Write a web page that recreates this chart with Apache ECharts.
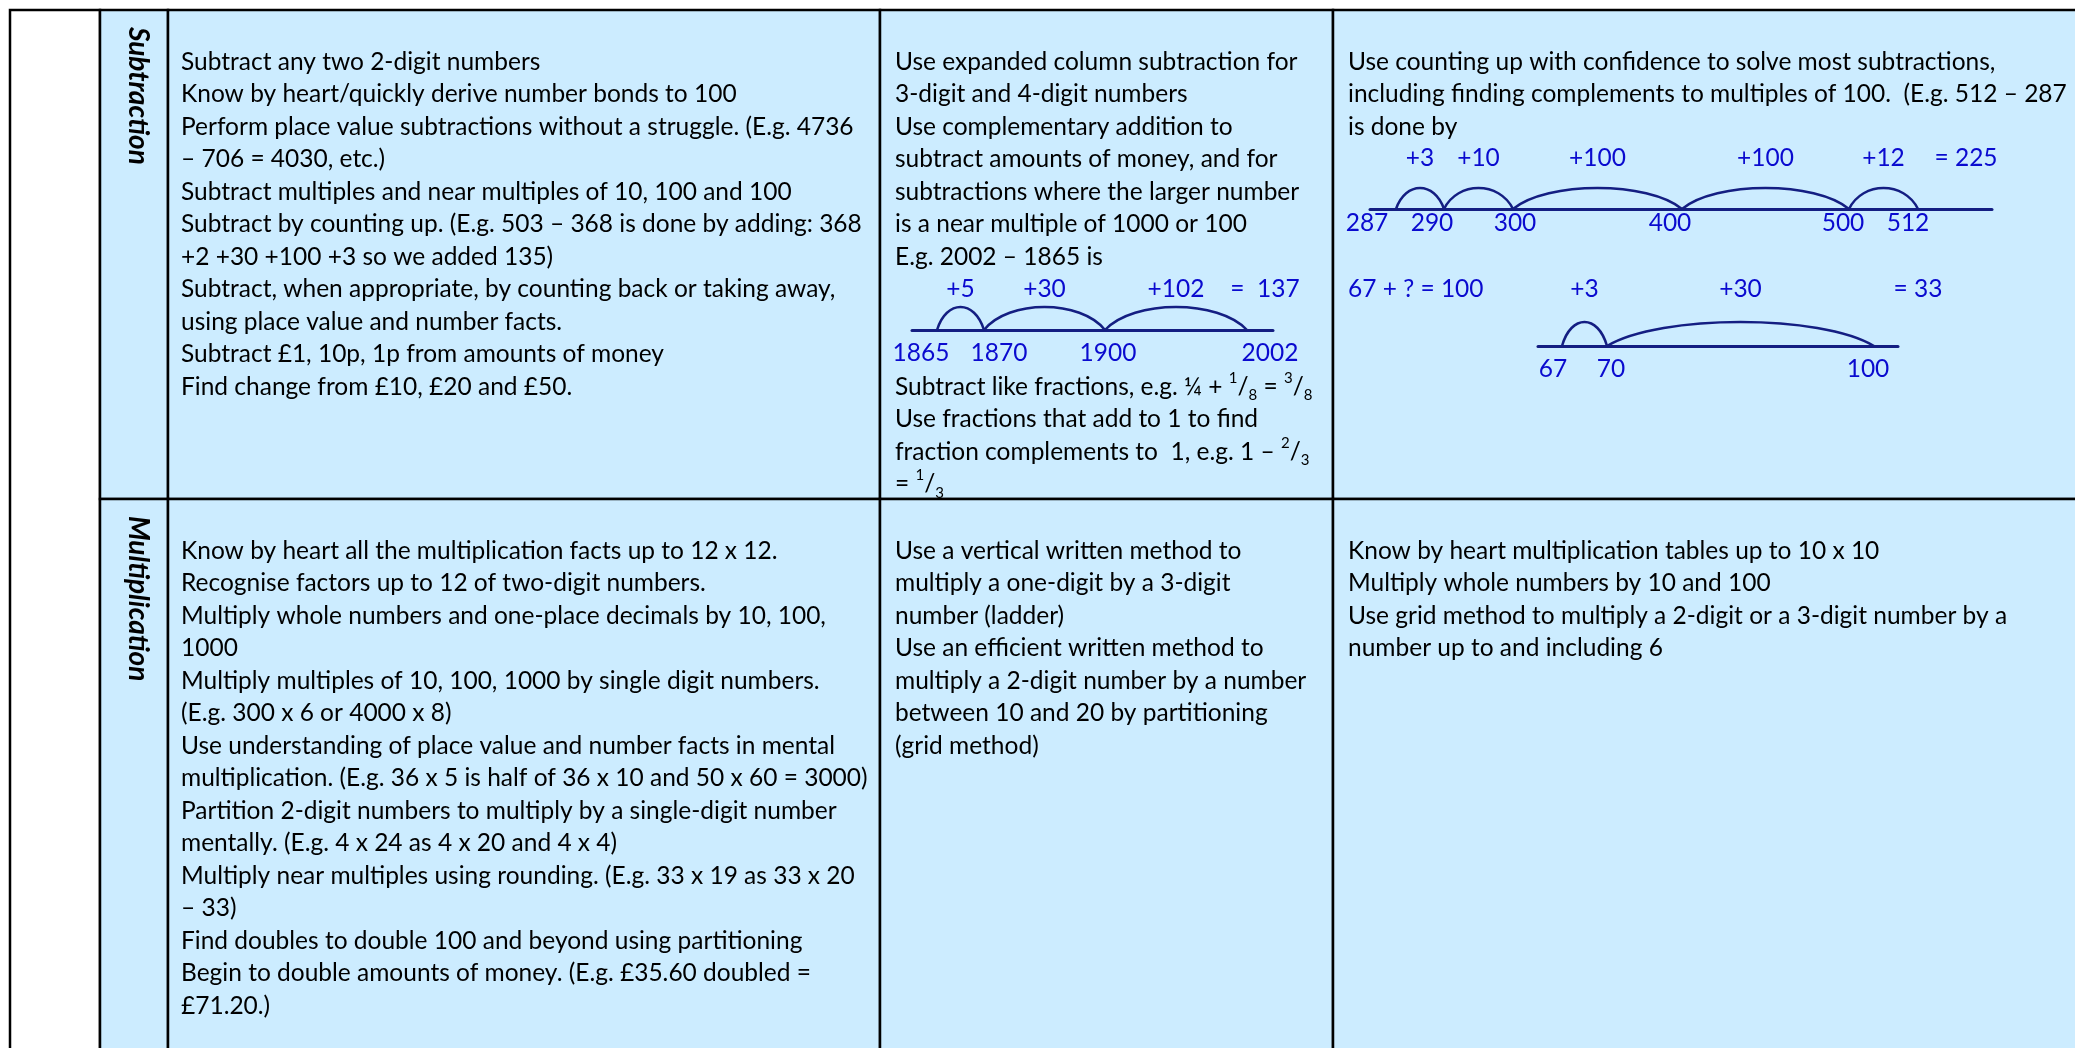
<!DOCTYPE html>
<html>
<head>
<meta charset="utf-8">
<script src="https://cdn.jsdelivr.net/npm/echarts@6.0.0/dist/echarts.min.js"></script>
<style>
  html, body { margin: 0; padding: 0; background: #fff; }
  #main { width: 2075px; height: 1048px; }
</style>
</head>
<body>
<div id="main"></div>
<script>
// table text, one array per cell
var rowNames = ['Subtraction', 'Multiplication'];

var subtractionA = [
  'Subtract any two 2-digit numbers',
  'Know by heart/quickly derive number bonds to 100',
  'Perform place value subtractions without a struggle. (E.g. 4736',
  '– 706 = 4030, etc.)',
  'Subtract multiples and near multiples of 10, 100 and 100',
  'Subtract by counting up. (E.g. 503 – 368 is done by adding: 368',
  '+2 +30 +100 +3 so we added 135)',
  'Subtract, when appropriate, by counting back or taking away,',
  'using place value and number facts.',
  'Subtract £1, 10p, 1p from amounts of money',
  'Find change from £10, £20 and £50.'
];
var subtractionB = [
  'Use expanded column subtraction for',
  '3-digit and 4-digit numbers',
  'Use complementary addition to',
  'subtract amounts of money, and for',
  'subtractions where the larger number',
  'is a near multiple of 1000 or 100',
  'E.g. 2002 – 1865 is',
  ' ', ' ', ' ',
  'Subtract like fractions, e.g. ¼ + {sup|1}/{sub|8} = {sup|3}/{sub|8}',
  'Use fractions that add to 1 to find',
  'fraction complements to  1, e.g. 1 – {sup|2}/{sub|3}',
  '= {sup|1}/{sub|3}'
];
var subtractionC = [
  'Use counting up with confidence to solve most subtractions,',
  'including finding complements to multiples of 100.  (E.g. 512 – 287',
  'is done by',
  ' ', ' ', ' ', ' ',
  '{blue|67 + ? = 100}'
];
var multiplicationA = [
  'Know by heart all the multiplication facts up to 12 x 12.',
  'Recognise factors up to 12 of two-digit numbers.',
  'Multiply whole numbers and one-place decimals by 10, 100,',
  '1000',
  'Multiply multiples of 10, 100, 1000 by single digit numbers.',
  '(E.g. 300 x 6 or 4000 x 8)',
  'Use understanding of place value and number facts in mental',
  'multiplication. (E.g. 36 x 5 is half of 36 x 10 and 50 x 60 = 3000)',
  'Partition 2-digit numbers to multiply by a single-digit number',
  'mentally. (E.g. 4 x 24 as 4 x 20 and 4 x 4)',
  'Multiply near multiples using rounding. (E.g. 33 x 19 as 33 x 20',
  '– 33)',
  'Find doubles to double 100 and beyond using partitioning',
  'Begin to double amounts of money. (E.g. £35.60 doubled =',
  '£71.20.)'
];
var multiplicationB = [
  'Use a vertical written method to',
  'multiply a one-digit by a 3-digit',
  'number (ladder)',
  'Use an efficient written method to',
  'multiply a 2-digit number by a number',
  'between 10 and 20 by partitioning',
  '(grid method)'
];
var multiplicationC = [
  'Know by heart multiplication tables up to 10 x 10',
  'Multiply whole numbers by 10 and 100',
  'Use grid method to multiply a 2-digit or a 3-digit number by a',
  'number up to and including 6'
];

// number lines: tick values, where they sit on the drawn line, the jumps
var lineA_ticks = [1865, 1870, 1900, 2002];
var lineA_at = [25, 72, 193, 335];
var lineA_jumps = ['+5', '+30', '+102'];
var lineA_total = '=  137';
var lineA_totalAt = 353;

var lineB_ticks = [287, 290, 300, 400, 500, 512];
var lineB_at = [26, 74, 143, 312, 479, 548];
var lineB_jumps = ['+3', '+10', '+100', '+100', '+12'];
var lineB_total = '= 225';
var lineB_totalAt = 596;

var lineC_ticks = [67, 70, 100];
var lineC_at = [24, 69, 336];
var lineC_jumps = ['+3', '+30'];
var lineC_total = '= 33';
var lineC_totalAt = 380;

var FONT = 'Lato, "Open Sans", sans-serif';
var SIZE = 24.5;
var INK = '#000000';
var BLUE = '#0A0ACF';
var NAVY = '#141E82';
var FILL = '#CCECFF';

var colEdges = [10, 100, 168, 880, 1333, 2090];
var rowEdges = [10, 499, 1070];
var textLeft = [181, 895, 1348];

var cells = [
  [subtractionA, subtractionB, subtractionC],
  [multiplicationA, multiplicationB, multiplicationC]
];

var rich = {
  sup: { fontSize: 15, lineHeight: 15, verticalAlign: 'top', fill: INK, fontFamily: FONT },
  sub: { fontSize: 15, lineHeight: 15, verticalAlign: 'bottom', fill: INK, fontFamily: FONT },
  blue: { fontSize: SIZE, lineHeight: 32.5, fill: BLUE, fontFamily: FONT }
};

var chart = echarts.init(document.getElementById('main'));

// table cells
var graphics = [];
graphics.push({
  type: 'rect', z: 0,
  shape: { x: colEdges[0], y: rowEdges[0], width: colEdges[1] - colEdges[0], height: rowEdges[2] - rowEdges[0] },
  style: { fill: '#fff', stroke: INK, lineWidth: 2.5 }
});
rowNames.forEach(function (name, r) {
  var top = rowEdges[r];
  var h = rowEdges[r + 1] - top;
  for (var c = 1; c < 5; c++) {
    graphics.push({
      type: 'rect', z: 0,
      shape: { x: colEdges[c], y: top, width: colEdges[c + 1] - colEdges[c], height: h },
      style: { fill: FILL, stroke: INK, lineWidth: 2.5 }
    });
  }
  graphics.push({
    type: 'text', z: 1,
    x: 138, y: top + 17,
    rotation: -Math.PI / 2,
    style: {
      text: name, fill: INK, fontFamily: FONT, fontSize: 28,
      fontWeight: 'bold', fontStyle: 'italic', align: 'left', verticalAlign: 'middle'
    }
  });
  cells[r].forEach(function (lines, k) {
    graphics.push({
      type: 'text', z: 1,
      x: textLeft[k], y: top + 35.5,
      style: {
        text: lines.join('\n'), fill: INK, fontFamily: FONT, fontSize: SIZE,
        lineHeight: 32.5, align: 'left', verticalAlign: 'top', rich: rich
      }
    });
  });
});

// number lines (box = where each line is drawn in the cell)
var numberLines = [
  { ticks: lineA_ticks, at: lineA_at, jumps: lineA_jumps, total: lineA_total, totalAt: lineA_totalAt,
    box: { left: 912, length: 361, axisY: 330, peakY: 307, hopY: 289, tickGap: 11, shift: [-16, 15, 3, 23] } },
  { ticks: lineB_ticks, at: lineB_at, jumps: lineB_jumps, total: lineB_total, totalAt: lineB_totalAt,
    box: { left: 1370, length: 622, axisY: 209, peakY: 188, hopY: 158, tickGap: 2, shift: [-29, -12, 2, -12, -6, -10] } },
  { ticks: lineC_ticks, at: lineC_at, jumps: lineC_jumps, total: lineC_total, totalAt: lineC_totalAt,
    box: { left: 1538, length: 360, axisY: 346, peakY: 322, hopY: 289, tickGap: 11, shift: [-9, 4, -6] } }
];

var grids = [], xAxes = [], yAxes = [], series = [];
numberLines.forEach(function (nl, i) {
  var b = nl.box;
  var tickRich = {};
  b.shift.forEach(function (d, j) {
    tickRich['s' + j] = {
      color: BLUE, fontFamily: FONT, fontSize: SIZE,
      padding: d < 0 ? [0, -2 * d, 0, 0] : [0, 0, 0, 2 * d]
    };
  });
  grids.push({
    left: b.left, top: b.peakY, width: b.length, height: b.axisY - b.peakY,
    containLabel: false, outerBoundsMode: 'none'
  });
  xAxes.push({
    gridIndex: i, type: 'value', min: 0, max: b.length, z: 5,
    splitLine: { show: false },
    axisTick: { show: false },
    axisLine: { show: true, onZero: false, lineStyle: { color: NAVY, width: 3 } },
    axisLabel: {
      customValues: nl.at,
      hideOverlap: false,
      showMinLabel: true,
      showMaxLabel: true,
      formatter: function (v) {
        var j = nl.at.indexOf(v);
        return j < 0 ? '' : '{s' + j + '|' + nl.ticks[j] + '}';
      },
      rich: tickRich,
      color: BLUE, fontFamily: FONT, fontSize: SIZE, margin: b.tickGap
    }
  });
  yAxes.push({ gridIndex: i, type: 'value', min: 0, max: 1, show: false });

  var hops = [];
  for (var j = 0; j < nl.jumps.length; j++) hops.push([nl.at[j], nl.at[j + 1]]);
  hops.push([nl.totalAt, nl.totalAt]);
  var labels = nl.jumps.concat([nl.total]);

  series.push({
    type: 'custom', xAxisIndex: i, yAxisIndex: i, z: 6, clip: false, silent: true,
    data: hops,
    renderItem: function (params, api) {
      var a = api.value(0), c = api.value(1);
      var p0 = api.coord([a, 0]);
      var p1 = api.coord([c, 0]);
      var pk = api.coord([(a + c) / 2, 1]);
      var text = {
        type: 'text', x: pk[0], y: p0[1] - (b.axisY - b.hopY),
        style: {
          text: labels[params.dataIndex], fill: BLUE, fontFamily: FONT, fontSize: SIZE,
          align: 'center', verticalAlign: 'middle'
        }
      };
      if (a === c) return text;
      var w = p1[0] - p0[0];
      var rise = (p0[1] - pk[1]) * 4 / 3;
      return {
        type: 'group',
        children: [{
          type: 'bezierCurve',
          shape: {
            x1: p0[0], y1: p0[1], x2: p1[0], y2: p1[1],
            cpx1: p0[0] + w * 0.2, cpy1: p0[1] - rise,
            cpx2: p1[0] - w * 0.2, cpy2: p1[1] - rise
          },
          style: { fill: null, stroke: NAVY, lineWidth: 2.5 }
        }, text]
      };
    }
  });
});

chart.setOption({
  animation: false,
  backgroundColor: '#fff',
  graphic: { elements: graphics },
  grid: grids,
  xAxis: xAxes,
  yAxis: yAxes,
  series: series
});
</script>
</body>
</html>
